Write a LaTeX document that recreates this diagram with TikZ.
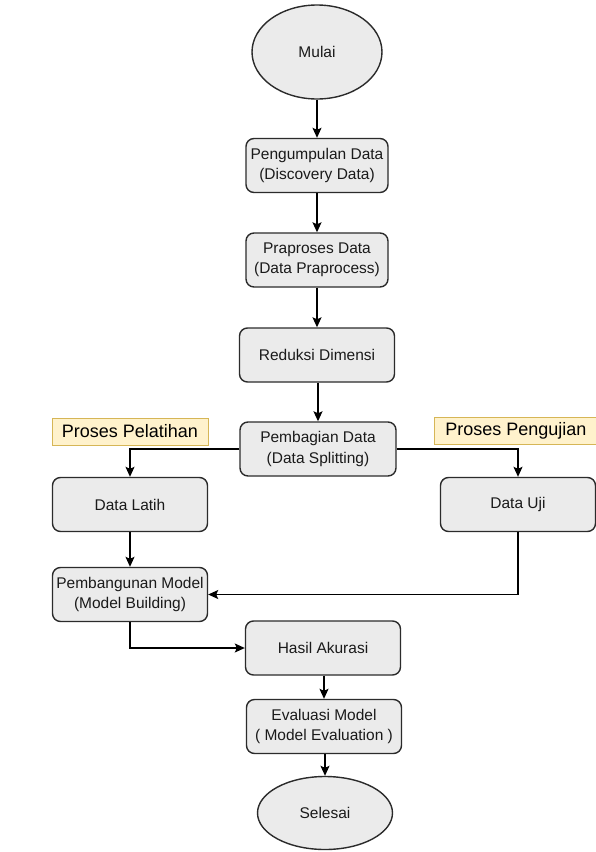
\documentclass[tikz,border=0pt]{standalone}
\usepackage{fontspec}
\setmainfont{Liberation Sans}
\usepackage{xcolor}
\usepackage{tikz}
\usetikzlibrary{positioning,arrows.meta,shapes.geometric}
\definecolor{FLgrey}{HTML}{EBEBEB}
\definecolor{FLline}{HTML}{2B2B2B}
\definecolor{FLtext}{HTML}{1A1A1A}
\definecolor{FLnote}{HTML}{FFF2CC}
\definecolor{FLnoteline}{HTML}{D6B656}
\tikzset{
  stepbox/.style={rounded corners=8pt, draw=FLline, fill=FLgrey, line width=1.4pt, align=center, minimum width=155pt, minimum height=54pt, inner sep=2pt, text=FLtext, font=\fontsize{15.5}{20.5}\selectfont},
  termnode/.style={ellipse, draw=FLline, fill=FLgrey, line width=1.4pt, align=center, inner sep=0pt, text=FLtext, font=\fontsize{15.5}{20.5}\selectfont},
  notebox/.style={draw=FLnoteline, fill=FLnote, line width=1pt, minimum height=27pt, inner sep=2pt, text=black, font=\fontsize{18}{22}\selectfont},
  flowarr/.style={-{Stealth[length=10pt, width=9pt, inset=2pt]}, line width=1.3pt, draw=black}
}
\begin{document}
\begin{tikzpicture}[x=1pt, y=-1pt, node distance=40pt]
  \useasboundingbox (0,0) rectangle (596,852);
  \node[termnode, minimum width=130pt, minimum height=94pt] (mulai) at (317,52) {Mulai};
  \node[stepbox, minimum width=142pt] (kumpul) at (317,165.5) {Pengumpulan Data\\(Discovery Data)};
  \node[stepbox, minimum width=142pt] (praproses) at (317,260) {Praproses Data\\(Data Praprocess)};
  \node[stepbox] (reduksi) at (317,355) {Reduksi Dimensi};
  \node[stepbox, minimum width=156pt] (bagi) at (318,449) {Pembagian Data\\(Data Splitting)};
  \node[notebox, minimum width=156pt] (latihnote) at (130,431.5) {Proses Pelatihan};
  \node[notebox, minimum width=164pt] (ujinote) at (516,430.5) {Proses Pengujian};
  \node[stepbox] (latih) at (130,504.5) {Data Latih};
  \node[stepbox] (uji) at (518,504.5) {Data Uji};
  \node[stepbox] (bangun) at (130,594.5) {Pembangunan Model\\(Model Building)};
  \node[stepbox] (hasil) at (323,648) {Hasil Akurasi};
  \node[stepbox] (evaluasi) at (324,726.5) {Evaluasi Model\\( Model Evaluation )};
  \node[termnode, minimum width=135pt, minimum height=73pt] (selesai) at (325,813) {Selesai};
  % alur utama
  \draw[flowarr] (mulai) -- (kumpul);
  \draw[flowarr] (kumpul) -- (praproses);
  \draw[flowarr] (praproses) -- (reduksi);
  \draw[flowarr] (reduksi.south -| bagi.north) -- (bagi.north);
  \draw[flowarr] (bagi.west) -| (latih.north);
  \draw[flowarr] (bagi.east) -| (uji.north);
  \draw[flowarr] (latih) -- (bangun);
  \draw[flowarr] (uji.south) |- (bangun.east);
  \draw[flowarr] (bangun.south) |- (hasil.west);
  \draw[flowarr] (hasil.south -| evaluasi.north) -- (evaluasi.north);
  \draw[flowarr] (evaluasi.south -| selesai.north) -- (selesai.north);
\end{tikzpicture}
\end{document}
